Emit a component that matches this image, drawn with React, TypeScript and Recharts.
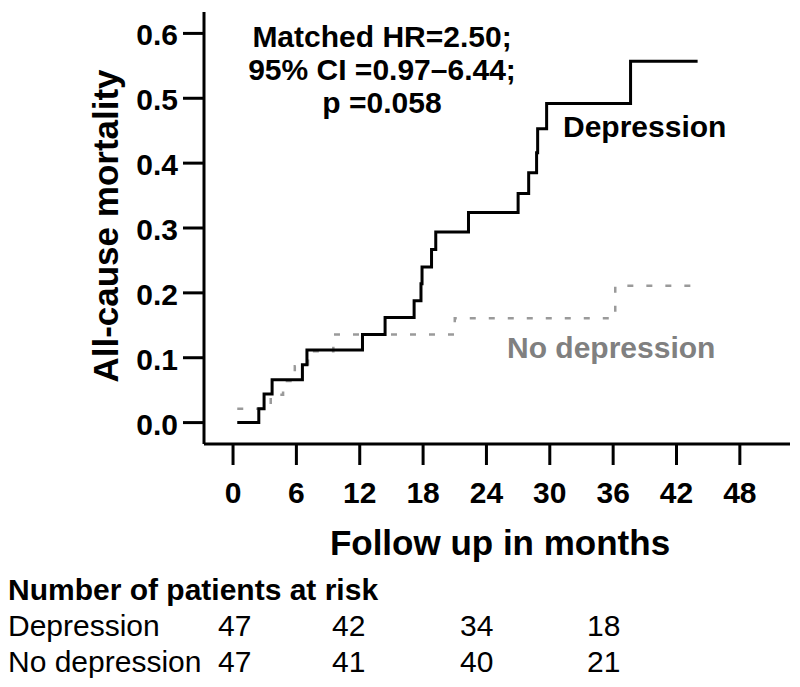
import React from 'react';
import { LineChart, Line, XAxis, YAxis } from 'recharts';

const FONT = "'Liberation Sans', Arial, Helvetica, sans-serif";

// Kaplan–Meier cumulative mortality, Depression group
const depressionTimes = [0.4, 2.44, 2.94, 3.7, 6.57, 7.0, 12.26, 14.4, 17.15, 17.8, 17.9, 18.8, 19.2, 22.3, 27.0, 28.0, 28.75, 28.85, 29.7, 37.65, 44.0];
const depressionValues = [0, 0.0215, 0.044, 0.066, 0.089, 0.112, 0.136, 0.162, 0.188, 0.214, 0.24, 0.267, 0.294, 0.324, 0.353, 0.385, 0.416, 0.453, 0.492, 0.557, 0.557];

// No depression group
const noDepressionTimes = [0.4, 3.57, 4.74, 5.85, 7.1, 9.5, 21.0, 36.2, 43.6];
const noDepressionValues = [0.0215, 0.043, 0.064, 0.087, 0.11, 0.136, 0.161, 0.211, 0.211];

const xTicks = [0, 6, 12, 18, 24, 30, 36, 42, 48];
const yTicks = [0, 0.1, 0.2, 0.3, 0.4, 0.5, 0.6];

const annotationLines = ['Matched HR=2.50;', '95% CI =0.97\u20136.44;', 'p =0.058'];

const riskTitle = 'Number of patients at risk';
const riskGroups = ['Depression', 'No depression'];
const riskDepression = [47, 42, 34, 18];
const riskNoDepression = [47, 41, 40, 21];
const riskColumnsX = [218, 332, 460, 587];

const depressionData = depressionTimes.map((t, i) => ({ t, v: depressionValues[i] }));
const noDepressionData = noDepressionTimes.map((t, i) => ({ t, v: noDepressionValues[i] }));

const XTick = (props: any) => {
  const { x, y, payload } = props;
  return (
    <text x={x} y={y} dy={38} textAnchor="middle" fontFamily={FONT} fontWeight="bold" fontSize={30} fill="#000">
      {String(payload.value)}
    </text>
  );
};

const YTick = (props: any) => {
  const { x, y, payload } = props;
  return (
    <text x={x - 5} y={y} dy={12} textAnchor="end" fontFamily={FONT} fontWeight="bold" fontSize={30} fill="#000">
      {Number(payload.value).toFixed(1)}
    </text>
  );
};

export default function App() {
  const riskRows = [riskDepression, riskNoDepression];
  return (
    <div style={{ position: 'absolute', left: 0, top: 0, width: 800, height: 687, background: '#fff' }}>
      <LineChart width={800} height={687} margin={{ top: 12, right: 10, bottom: 0, left: 0 }}>
        <XAxis
          type="number"
          dataKey="t"
          domain={[-2.75, 52.75]}
          ticks={xTicks}
          allowDataOverflow
          height={243}
          tickSize={21}
          tickMargin={0}
          axisLine={{ stroke: '#000', strokeWidth: 3 }}
          tickLine={{ stroke: '#000', strokeWidth: 3 }}
          tick={<XTick />}
        />
        <YAxis
          type="number"
          domain={[-0.033, 0.633]}
          ticks={yTicks}
          allowDataOverflow
          width={204}
          tickSize={21}
          tickMargin={0}
          axisLine={{ stroke: '#000', strokeWidth: 3 }}
          tickLine={{ stroke: '#000', strokeWidth: 3 }}
          tick={<YTick />}
        />
        <Line
          data={noDepressionData}
          dataKey="v"
          type="stepAfter"
          stroke="#9a9a9a"
          strokeWidth={2.5}
          strokeDasharray="6 13"
          dot={false}
          isAnimationActive={false}
        />
        <Line
          data={depressionData}
          dataKey="v"
          type="stepAfter"
          stroke="#000"
          strokeWidth={3}
          dot={false}
          isAnimationActive={false}
        />
        <g fontFamily={FONT}>
          {annotationLines.map((s, i) => (
            <text key={i} x={382} y={47 + i * 33} textAnchor="middle" fontWeight="bold" fontSize={30} fill="#000">
              {s}
            </text>
          ))}
          <text x={563} y={137} fontWeight="bold" fontSize={30} fill="#000">Depression</text>
          <text x={507} y={358} fontWeight="bold" fontSize={30} fill="#808080">No depression</text>
          <text x={118} y={226} transform="rotate(-90, 118, 226)" textAnchor="middle" fontWeight="bold" fontSize={35} fill="#000">
            All-cause mortality
          </text>
          <text x={500} y={555} textAnchor="middle" fontWeight="bold" fontSize={35} fill="#000">
            Follow up in months
          </text>
          <text x={8} y={600} fontWeight="bold" fontSize={30} fill="#000">{riskTitle}</text>
          {riskGroups.map((g, r) => (
            <g key={g}>
              <text x={8} y={636 + r * 36} fontSize={30} fill="#000">{g}</text>
              {riskRows[r].map((n, c) => (
                <text key={c} x={riskColumnsX[c]} y={636 + r * 36} fontSize={30} fill="#000">{n}</text>
              ))}
            </g>
          ))}
        </g>
      </LineChart>
    </div>
  );
}
